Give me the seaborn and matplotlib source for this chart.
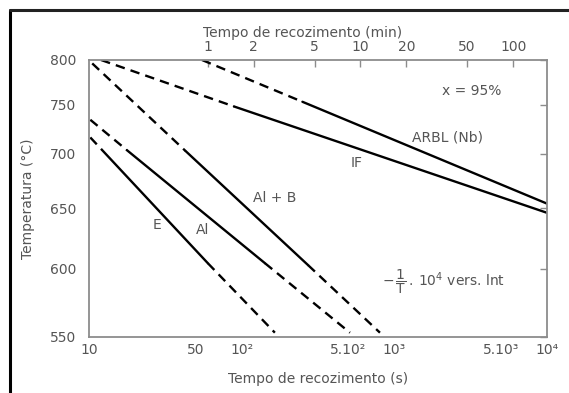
import numpy as np
import pandas as pd
import matplotlib
matplotlib.use('Agg')
import matplotlib.pyplot as plt
import seaborn as sns
from matplotlib.lines import Line2D
from matplotlib.ticker import FixedLocator, FixedFormatter, NullLocator

# recrystallisation curves (x = 95%): time (s) and temperature (C)
# at the ends of each dashed / solid piece
arbl_t = [55, 250, 10000]
arbl_T = [800, 753, 654]
arbl_style = ['--', '-']

if_t = [12, 89, 10000]
if_T = [800, 748, 646]
if_style = ['--', '-']

alb_t = [10.5, 43, 272, 805]
alb_T = [796, 702.5, 603, 553]
alb_style = ['--', '-', '--']

al_t = [10.2, 17.7, 142, 512]
al_T = [734, 703.5, 604.5, 553]
al_style = ['--', '-', '--']

e_t = [10.2, 12.2, 60, 165]
e_T = [716, 703.5, 604.5, 553]
e_style = ['--', '-', '--']

x_ticks = [10, 50, 100, 500, 1000, 5000, 10000]
x_labels = ['10', '50', '10²', '5.10²', '10³', '5.10³', '10⁴']
top_ticks = [1, 2, 5, 10, 20, 50, 100]
y_ticks = [550, 600, 650, 700, 750, 800]

txt = '#555555'
grey = '#8c8c8c'

sns.set_theme(style='white')
plt.rcParams['font.family'] = ['DejaVu Sans']

fig = plt.figure(figsize=(5.69, 3.93), dpi=100)
ax = fig.add_axes([89/569, 1 - 337/393, 458/569, 277/393])

# temperature axis is linear in 1/T
def fwd(T):
    T = np.asarray(T, dtype=float)
    return -1e4 / (T + 273.15)

def inv(u):
    u = np.asarray(u, dtype=float)
    return -1e4 / u - 273.15

ax.set_xscale('log')
ax.set_yscale('function', functions=(fwd, inv))

dash = (0, (4, 2.6))
curves = [(arbl_t, arbl_T, arbl_style), (if_t, if_T, if_style),
          (alb_t, alb_T, alb_style), (al_t, al_T, al_style),
          (e_t, e_T, e_style)]
for t, T, styles in curves:
    for i, st in enumerate(styles):
        seg = pd.DataFrame({'t': t[i:i + 2], 'T': T[i:i + 2]})
        sns.lineplot(data=seg, x='t', y='T', ax=ax, color='black', lw=1.7,
                     sort=False, estimator=None,
                     linestyle=dash if st == '--' else '-')

ax.set_xlim(10, 10000)
ax.set_ylim(550, 800)

ax.xaxis.set_major_locator(FixedLocator(x_ticks))
ax.xaxis.set_major_formatter(FixedFormatter(x_labels))
ax.xaxis.set_minor_locator(NullLocator())
ax.yaxis.set_major_locator(FixedLocator(y_ticks))
ax.yaxis.set_major_formatter(FixedFormatter([str(v) for v in y_ticks]))
ax.yaxis.set_minor_locator(NullLocator())

ax.tick_params(axis='both', direction='in', length=5, width=1, color=grey,
               labelcolor=txt, labelsize=10, right=True)
ax.tick_params(axis='x', pad=4)
ax.tick_params(axis='y', pad=9)
for s in ax.spines.values():
    s.set_color(grey)
    s.set_linewidth(1.3)

top = ax.secondary_xaxis('top', functions=(lambda x: x / 60, lambda x: x * 60))
top.xaxis.set_major_locator(FixedLocator(top_ticks))
top.xaxis.set_major_formatter(FixedFormatter([str(v) for v in top_ticks]))
top.xaxis.set_minor_locator(NullLocator())
top.tick_params(direction='in', length=5, width=1, color=grey,
                labelcolor=txt, labelsize=10, pad=4)
top.spines['top'].set_visible(False)

ax.set_xlabel('Tempo de recozimento (s)', color=txt, fontsize=10, labelpad=11)
ax.set_ylabel('Temperatura (°C)', color=txt, fontsize=10, labelpad=11)
fig.text(303/569, 1 - 33/393, 'Tempo de recozimento (min)', color=txt,
         fontsize=10, ha='center', va='center')

kw = dict(transform=ax.transAxes, color=txt, fontsize=10, va='center')
ax.text(0.836, 0.888, 'x = 95%', ha='center', **kw)
ax.text(0.782, 0.722, 'ARBL (Nb)', ha='center', **kw)
ax.text(0.585, 0.628, 'IF', ha='center', **kw)
ax.text(0.406, 0.502, 'Al + B', ha='center', **kw)
ax.text(0.247, 0.386, 'Al', ha='center', **kw)
ax.text(0.148, 0.404, 'E', ha='center', **kw)
ax.text(0.64, 0.199, r'$-\,\dfrac{1}{\mathrm{T}}\,.\,10^4$ vers. lnt',
        ha='left', **kw)

# frame of the scanned figure
fig.add_artist(Line2D([10/569, 10/569], [0, 1 - 10/393], color='black', lw=2.2))
fig.add_artist(Line2D([10/569, 1], [1 - 10/393, 1 - 10/393], color='#222222', lw=2.2))

fig.savefig('out.png', dpi=100)
